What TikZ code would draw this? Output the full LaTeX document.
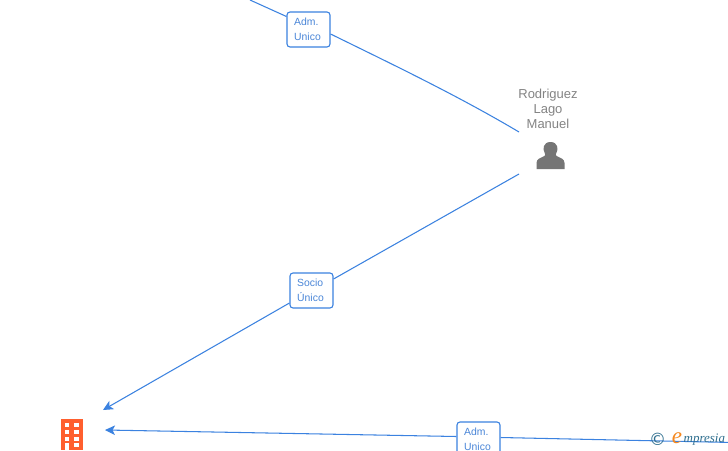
\documentclass[tikz,border=0pt]{standalone}
\usepackage{fontspec}
\setmainfont{Liberation Sans}
\newfontfamily\copyfamily{DejaVu Sans}
\newfontfamily\logofamily{Liberation Serif}
\usetikzlibrary{arrows.meta}
\definecolor{linkblue}{HTML}{3B82E0}
\definecolor{boxtext}{HTML}{4A86D8}
\definecolor{persongray}{HTML}{757575}
\definecolor{labelgray}{HTML}{848484}
\definecolor{bldorange}{HTML}{FF5F2E}
\definecolor{logoteal}{HTML}{2F6F8F}
\definecolor{logoorange}{HTML}{F5881F}
\tikzset{
  x=1pt,y=-1pt,
  link/.style={draw=linkblue,line width=1.05pt},
  arrowlink/.style={link,-{Stealth[length=10pt,width=9.5pt,inset=2.5pt]}},
  rolebox/.style={draw=linkblue,line width=1.1pt,rounded corners=3pt,fill=white,minimum width=43pt,minimum height=35pt,inner sep=0pt,text=boxtext},
  roletext/.style={inner sep=0pt,align=left,anchor=north west,text=boxtext,font=\fontsize{10.4}{15}\selectfont},
  personlabel/.style={text=labelgray,align=center,inner sep=0pt,font=\fontsize{13}{15}\selectfont},
}
\begin{document}
\begin{tikzpicture}
\useasboundingbox (0,0) rectangle (728,450);
\clip (0,0) rectangle (728,450);
\fill[white] (0,0) rectangle (728,450);
\coordinate (topfree) at (250,0);
\coordinate (personA) at (519,132);
\coordinate (personB) at (519,174);
\coordinate (companyA) at (103,410);
\coordinate (companyB) at (105,430);
\coordinate (rightfree) at (728,442.4);
\node[rolebox] (adm1) at (308.5,29.5) {};
\node[rolebox] (socio) at (311.5,290.5) {};
\node[rolebox] (adm2) at (478.5,439.5) {};
\draw[link] (topfree) -- ([yshift=13pt]adm1.west);
\draw[link] ([yshift=-4.5pt]adm1.east) .. controls (400,68) and (460,97) .. (personA);
\draw[link] (personB) -- ([yshift=11.5pt]socio.east);
\draw[arrowlink] ([yshift=-12.5pt]socio.west) -- (companyA);
\draw[link] (rightfree) -- ([yshift=2pt]adm2.east);
\draw[arrowlink] ([yshift=3pt]adm2.west) -- (companyB);
\node[roletext] (adm1text) at (294,18) {Adm.\\Unico};
\node[roletext] (sociotext) at (297,279) {Socio\\Único};
\node[roletext] (adm2text) at (464,428) {Adm.\\Unico};
\node[personlabel] (personname) at (548,108.5) {Rodriguez\\Lago\\Manuel};
% person icon
\fill[persongray] (536.5,169) -- (536.5,163) .. controls (536.5,158.5) and (541,158) .. (544.5,156)
  .. controls (545.5,155) and (545.5,154) .. (544.5,152.5)
  .. controls (542.5,149.5) and (543,142) .. (550.5,142)
  .. controls (558,142) and (558.5,149.5) .. (556.5,152.5)
  .. controls (555.5,154) and (555.5,155) .. (556.5,156)
  .. controls (560,158) and (564.5,158.5) .. (564.5,163) -- (564.5,169) -- cycle;
% building icon
\fill[bldorange] (60.5,419.3) rectangle (83,450);
\foreach \r in {0,1,2,3}{
  \fill[white] (64.5,423.3+\r*6.67) rectangle (69,427.3+\r*6.67);
  \fill[white] (73.7,423.3+\r*6.67) rectangle (79,427.3+\r*6.67);
}
\fill[white] (64.5,443.3) rectangle (69,450);
% logo
\node[inner sep=0pt,text=logoteal] (copy) at (657.5,439) {\copyfamily\fontsize{17}{17}\selectfont ©};
\node[inner sep=0pt,text=logoorange] (logoe) at (677,438) {\logofamily\fontsize{23}{23}\selectfont\itshape e};
\node[inner sep=0pt,anchor=west,text=logoteal] (logotext) at (683.5,439.5) {\logofamily\fontsize{13}{14}\selectfont\itshape mpresia};
\end{tikzpicture}
\end{document}
